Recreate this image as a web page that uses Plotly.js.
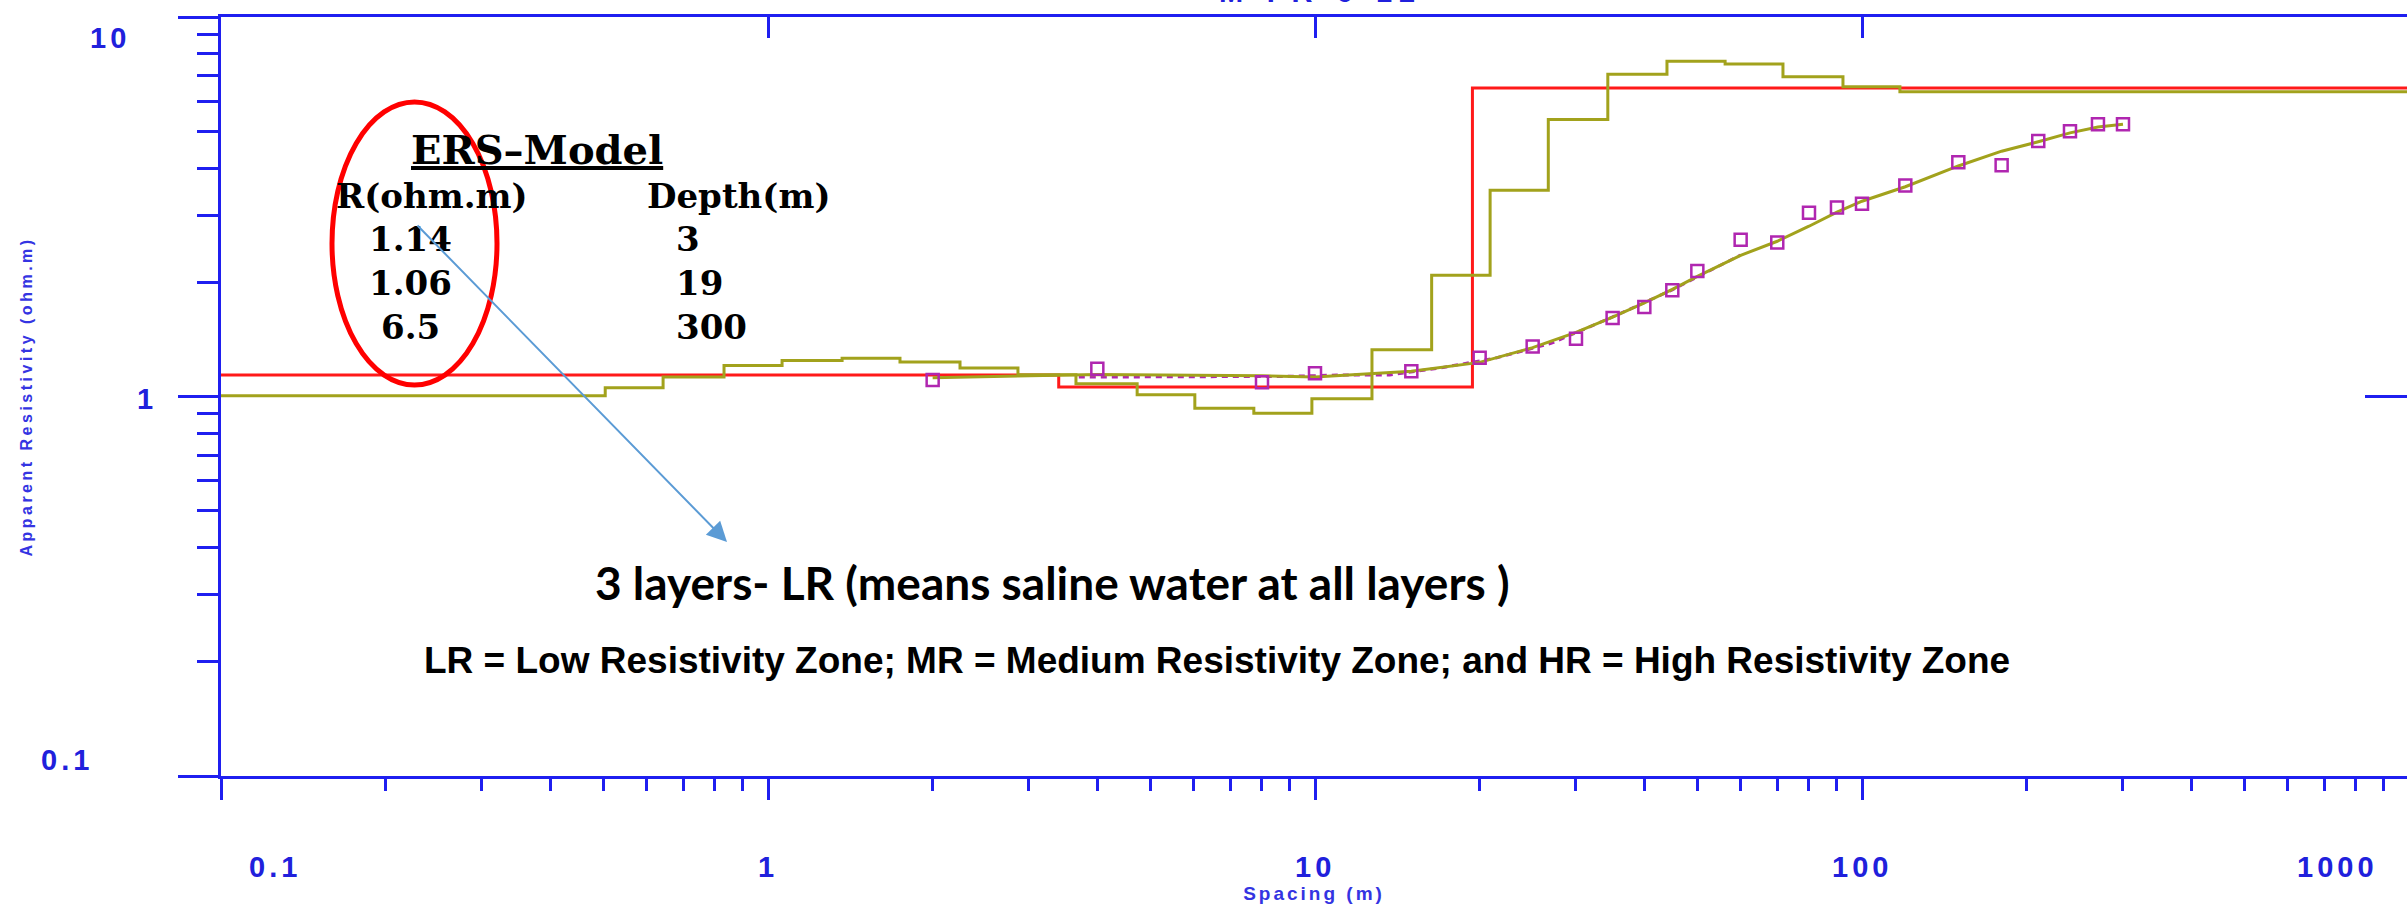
<!DOCTYPE html>
<html><head><meta charset="utf-8">
<script src="https://cdn.plot.ly/plotly-3.0.1.min.js"></script>
<style>html,body{margin:0;padding:0;background:#fff;overflow:hidden}#chart{width:2407px;height:909px}</style>
</head><body><div id="chart"></div>
<script>
// ---------- data ----------
const spacingData = [2,4,8,10,15,20,25,30,35,40,45,50,60,70,80,90,100,120,150,180,210,240,270,300];
const rhoData = [1.105,1.183,1.09,1.152,1.165,1.265,1.355,1.42,1.61,1.72,1.905,2.14,2.59,2.545,3.05,3.15,3.22,3.6,4.14,4.07,4.71,5.0,5.22,5.22];
const rhoCalc = [1.12,1.143,1.134,1.125,1.166,1.23,1.345,1.475,1.619,1.765,1.916,2.073,2.355,2.565,2.81,3.06,3.27,3.57,4.05,4.43,4.69,4.95,5.13,5.22];
const smoothX = [3.7,5,6.4,9,11.2,13.7,17,21.5,27,35,45,60];
const smoothRho = [1.125,1.125,1.125,1.13,1.14,1.14,1.19,1.265,1.38,1.62,1.91,2.36];
const modelX = [0.1,3.4,19.4,1000];
const modelRho = [1.14,1.06,6.5,6.5];
const stepX = [0.1,0.504,0.643,0.831,1.061,1.366,1.743,2.244,2.864,3.656,4.73,6.03,7.73,9.87,12.71,16.34,20.9,26.7,34.3,44.0,56.2,71.7,92.3,117.3,1000];
const stepRho = [1.005,1.054,1.125,1.207,1.245,1.262,1.232,1.188,1.141,1.080,1.010,0.931,0.904,0.986,1.328,2.086,3.495,5.37,7.07,7.65,7.52,6.96,6.55,6.35,6.35];

const xTickVals = [0.1,1,10,100,1000];
const xTickText = ['0.1','1','10','100','1000'];
const yTickVals = [0.1,1,10];
const yTickText = ['0.1','1','10'];

const chartTitle = 'M-FR-6-12';
const xTitle = 'Spacing (m)';
const yTitle = 'Apparent Resistivity (ohm.m)';
const modelTitle = 'ERS–Model';
const colHeaders = ['R(ohm.m)','Depth(m)'];
const tableRho = ['1.14','1.06','6.5'];
const tableDepth = ['3','19','300'];
const note1 = '3 layers- LR (means saline water at all layers )';
const note2 = 'LR = Low Resistivity Zone; MR = Medium Resistivity Zone; and HR = High Resistivity Zone';

// ---------- styling / layout ----------
const W = 2407, H = 909, L = 221, T = 17, B = 776, R = W;
const xp = px => (px - L) / (R - L);
const yp = py => (B - py) / (B - T);
const AX = '#1f1ff0';
const TB = '#2020dc';
const RED = '#ff1a1a', OLIVE = '#a2a21c', PURP = '#b026b0';
const xRange = [-1, 3 - 2/547];
const yRange = [-1, 1];
const xLogToPaper = v => (Math.log10(v) - xRange[0]) / (xRange[1] - xRange[0]);

const minorX = [], minorY = [];
for (let e = -1; e < 3; e++) for (let d = 2; d <= 9; d++) minorX.push(d * Math.pow(10, e));
for (let e = -1; e < 1; e++) for (let d = 2; d <= 9; d++) minorY.push(d * Math.pow(10, e));

const traces = [
  {x: modelX, y: modelRho, mode: 'lines', line: {color: RED, width: 3, shape: 'hv'}, name: 'Model'},
  {x: stepX, y: stepRho, mode: 'lines', line: {color: OLIVE, width: 3, shape: 'hv'}, name: 'Equivalent'},
  {x: smoothX, y: smoothRho, mode: 'lines', line: {color: PURP, width: 3, dash: '6px,5px'}, name: 'Smoothed'},
  {x: spacingData, y: rhoCalc, mode: 'lines', line: {color: OLIVE, width: 3}, name: 'Calculated'},
  {x: spacingData, y: rhoData, mode: 'markers', xaxis: 'x2', yaxis: 'y2',
   marker: {symbol: 'square-open', size: 12, color: PURP, line: {color: PURP, width: 2.5}}, name: 'Field data'}
];

const ls = s => '<span style="letter-spacing:' + s + 'px">';
const tickFont = {family: 'Liberation Sans, Arial, sans-serif', size: 29, color: TB, weight: 'bold'};
const annotations = [];

// axis tick labels
const xTickShift = [54, 0, 0, 0, -72];
xTickVals.forEach((v, i) => annotations.push({
  text: ls(4) + '<b>' + xTickText[i] + '</b></span>', xref: 'paper', yref: 'paper', x: xLogToPaper(v), y: yp(867),
  xshift: xTickShift[i], xanchor: 'center', yanchor: 'middle', showarrow: false, font: tickFont}));
const yTickCx = [67, 147, 110];
const yTickShift = [16, -2, -21];
yTickVals.forEach((v, i) => annotations.push({
  text: ls(4) + '<b>' + yTickText[i] + '</b></span>', xref: 'paper', yref: 'y', x: xp(yTickCx[i]), y: Math.log10(v),
  yshift: yTickShift[i], xanchor: 'center', yanchor: 'middle', showarrow: false, font: tickFont}));

// chart title (cut off at the top, as in the reference)
annotations.push({text: ls(7) + '<b>' + chartTitle + '</b></span>', xref: 'paper', yref: 'paper', x: xp(1320), y: yp(10),
  xanchor: 'center', yanchor: 'bottom', showarrow: false, font: tickFont});

// model table
const serif = 'DejaVu Serif, Liberation Serif, serif';
annotations.push({text: '<b><u>' + modelTitle + '</u></b>', xref: 'paper', yref: 'paper', x: xp(537), y: yp(150),
  xanchor: 'center', yanchor: 'middle', showarrow: false, font: {family: serif, size: 40, color: '#000'}});
const headX = [432, 738];
colHeaders.forEach((h, i) => annotations.push({text: '<b>' + h + '</b>', xref: 'paper', yref: 'paper', x: xp(headX[i]), y: yp(196),
  xanchor: 'center', yanchor: 'middle', showarrow: false, font: {family: serif, size: 34, color: '#000'}}));
const rowY = [239, 283, 327];
tableRho.forEach((t, i) => annotations.push({text: '<b>' + t + '</b>', xref: 'paper', yref: 'paper', x: xp(410), y: yp(rowY[i]),
  xanchor: 'center', yanchor: 'middle', showarrow: false, font: {family: serif, size: 34, color: '#000'}}));
tableDepth.forEach((t, i) => annotations.push({text: '<b>' + t + '</b>', xref: 'paper', yref: 'paper', x: xp(674), y: yp(rowY[i]),
  xanchor: 'left', yanchor: 'middle', showarrow: false, font: {family: serif, size: 34, color: '#000'}}));

// notes
annotations.push({text: '<b>' + note1 + '</b>', xref: 'paper', yref: 'paper', x: xp(1052), y: yp(582),
  xanchor: 'center', yanchor: 'middle', showarrow: false, font: {family: 'Lato, Open Sans, sans-serif', size: 46, color: '#000'}});
annotations.push({text: '<b>' + note2 + '</b>', xref: 'paper', yref: 'paper', x: xp(1217), y: yp(660),
  xanchor: 'center', yanchor: 'middle', showarrow: false, font: {family: 'Liberation Sans, sans-serif', size: 37, color: '#000'}});

// arrow
annotations.push({text: '', xref: 'paper', yref: 'paper', x: xp(727), y: yp(542), ax: 416 - 727, ay: 224 - 542,
  showarrow: true, arrowhead: 2, arrowsize: 2, arrowwidth: 2, arrowcolor: '#5b9bd5', standoff: 0, startstandoff: 0});

const shapes = [{type: 'circle', xref: 'paper', yref: 'paper', x0: xp(332), x1: xp(497), y0: yp(385), y1: yp(102),
  line: {color: '#ff0000', width: 5}, fillcolor: 'rgba(0,0,0,0)'}];

const layout = {
  width: W, height: H,
  margin: {l: L, r: 0, t: T, b: H - B, pad: 0},
  paper_bgcolor: '#fff', plot_bgcolor: '#fff',
  showlegend: false,
  xaxis: {type: 'log', range: xRange, showline: true, linecolor: AX, linewidth: 3, mirror: false,
    ticks: 'outside', tickvals: xTickVals, ticklen: 21, tickwidth: 3, tickcolor: AX, showticklabels: false,
    showgrid: false, zeroline: false,
    minor: {tickvals: minorX, ticks: 'outside', ticklen: 12, tickwidth: 3, tickcolor: AX, showgrid: false},
    title: {text: ls(3) + '<b>' + xTitle + '</b></span>', standoff: 88, font: {family: 'Liberation Sans, Arial, sans-serif', size: 19, color: '#3434e2'}}},
  yaxis: {type: 'log', range: yRange, showline: true, linecolor: AX, linewidth: 3,
    ticks: 'outside', tickvals: yTickVals, ticklen: 40, tickwidth: 3, tickcolor: AX, showticklabels: false,
    showgrid: false, zeroline: false,
    minor: {tickvals: minorY, ticks: 'outside', ticklen: 21, tickwidth: 3, tickcolor: AX, showgrid: false},
    title: {text: ls(3.5) + '<b>' + yTitle + '</b></span>', standoff: 142, font: {family: 'Liberation Sans, Arial, sans-serif', size: 16, color: '#3434e2'}}},
  xaxis2: {type: 'log', range: xRange, overlaying: 'x', side: 'top', anchor: 'y2', showline: true, linecolor: AX, linewidth: 3,
    ticks: 'inside', tickvals: [1, 10, 100], ticklen: 21, tickwidth: 3, tickcolor: AX, showticklabels: false,
    showgrid: false, zeroline: false},
  yaxis2: {type: 'log', range: yRange, overlaying: 'y', side: 'right', anchor: 'x2', showline: false,
    ticks: 'inside', tickvals: [1], ticklen: 42, tickwidth: 3, tickcolor: AX, showticklabels: false,
    showgrid: false, zeroline: false},
  annotations: annotations,
  shapes: shapes
};

Plotly.newPlot('chart', traces, layout, {staticPlot: true, displayModeBar: false});
</script></body></html>
